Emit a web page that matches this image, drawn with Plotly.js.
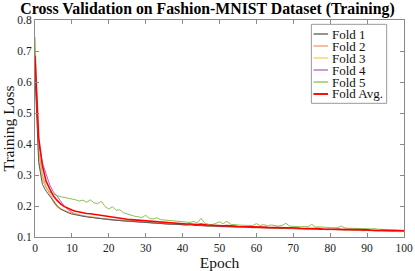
<!DOCTYPE html>
<html>
<head>
<meta charset="utf-8">
<script src="https://cdn.plot.ly/plotly-3.0.1.min.js"></script>
<style>html,body{margin:0;padding:0;background:#fff;}#chart{width:415px;height:271px;}</style>
</head>
<body>
<div id="chart"></div>
<script>
const epochs = Array.from({length: 101}, (_, i) => i);
const seriesNames = ["Fold 1", "Fold 2", "Fold 3", "Fold 4", "Fold 5", "Fold Avg."];
const xTicks = [0, 10, 20, 30, 40, 50, 60, 70, 80, 90, 100];
const yTicks = [0.1, 0.2, 0.3, 0.4, 0.5, 0.6, 0.7, 0.8];

const fold1 = [
0.620,0.340,0.270,0.248,0.232,0.215,0.200,0.190,0.183,0.178,
0.174,0.171,0.169,0.167,0.165,0.163,0.162,0.161,0.159,0.158,
0.156,0.156,0.154,0.153,0.152,0.151,0.151,0.149,0.148,0.148,
0.146,0.146,0.145,0.144,0.143,0.143,0.142,0.141,0.141,0.140,
0.139,0.139,0.142,0.138,0.137,0.137,0.136,0.136,0.135,0.135,
0.134,0.134,0.133,0.134,0.133,0.132,0.132,0.133,0.131,0.131,
0.131,0.130,0.132,0.130,0.129,0.130,0.129,0.128,0.129,0.128,
0.130,0.127,0.127,0.126,0.128,0.126,0.126,0.125,0.126,0.125,
0.125,0.124,0.126,0.124,0.123,0.124,0.123,0.123,0.125,0.122,
0.123,0.122,0.122,0.121,0.122,0.121,0.121,0.120,0.121,0.120,
0.120];
const fold2 = [
0.660,0.380,0.300,0.262,0.240,0.212,0.197,0.189,0.184,0.180,
0.177,0.173,0.170,0.168,0.166,0.164,0.163,0.161,0.160,0.158,
0.157,0.156,0.155,0.154,0.152,0.152,0.151,0.150,0.149,0.148,
0.147,0.146,0.146,0.144,0.144,0.143,0.142,0.142,0.141,0.140,
0.140,0.139,0.138,0.138,0.137,0.137,0.136,0.135,0.136,0.134,
0.134,0.133,0.133,0.132,0.133,0.131,0.131,0.132,0.130,0.130,
0.130,0.129,0.130,0.128,0.129,0.128,0.128,0.127,0.128,0.127,
0.127,0.126,0.127,0.125,0.126,0.125,0.125,0.124,0.125,0.123,
0.124,0.123,0.123,0.122,0.123,0.121,0.122,0.121,0.121,0.120,
0.121,0.120,0.120,0.119,0.120,0.119,0.118,0.119,0.118,0.117,
0.118];
const fold3 = [
0.640,0.370,0.290,0.258,0.238,0.218,0.202,0.192,0.186,0.181,
0.178,0.174,0.171,0.169,0.167,0.165,0.164,0.162,0.160,0.159,
0.158,0.157,0.155,0.155,0.153,0.152,0.151,0.151,0.149,0.149,
0.148,0.147,0.146,0.145,0.145,0.144,0.143,0.142,0.142,0.141,
0.140,0.140,0.139,0.139,0.138,0.138,0.137,0.137,0.136,0.136,
0.135,0.135,0.134,0.134,0.133,0.133,0.132,0.133,0.132,0.131,
0.131,0.131,0.130,0.130,0.129,0.130,0.129,0.128,0.128,0.128,
0.127,0.128,0.127,0.126,0.127,0.126,0.125,0.126,0.125,0.124,
0.125,0.124,0.124,0.123,0.124,0.123,0.122,0.123,0.122,0.122,
0.122,0.121,0.122,0.120,0.121,0.120,0.120,0.119,0.120,0.119,
0.119];
const fold4 = [
0.650,0.400,0.340,0.300,0.268,0.245,0.232,0.215,0.198,0.188,
0.180,0.175,0.171,0.168,0.166,0.164,0.162,0.161,0.159,0.158,
0.156,0.155,0.155,0.153,0.152,0.151,0.150,0.150,0.148,0.148,
0.147,0.146,0.145,0.145,0.144,0.143,0.142,0.142,0.141,0.140,
0.140,0.139,0.138,0.139,0.137,0.137,0.136,0.136,0.135,0.135,
0.134,0.134,0.133,0.133,0.132,0.133,0.132,0.131,0.131,0.130,
0.131,0.130,0.129,0.130,0.129,0.128,0.129,0.128,0.127,0.128,
0.127,0.127,0.126,0.126,0.125,0.126,0.125,0.125,0.124,0.124,
0.124,0.125,0.123,0.123,0.122,0.123,0.122,0.122,0.121,0.122,
0.121,0.121,0.120,0.121,0.120,0.119,0.120,0.119,0.119,0.119,
0.118];
const fold5 = [
0.745,0.350,0.285,0.258,0.245,0.238,0.233,0.230,0.228,0.226,
0.223,0.220,0.216,0.219,0.212,0.220,0.210,0.208,0.215,0.198,
0.190,0.198,0.186,0.188,0.178,0.174,0.170,0.167,0.165,0.163,
0.170,0.160,0.158,0.162,0.156,0.155,0.153,0.152,0.151,0.150,
0.149,0.148,0.147,0.150,0.146,0.160,0.145,0.141,0.140,0.144,
0.149,0.143,0.151,0.141,0.139,0.139,0.138,0.138,0.139,0.137,
0.143,0.137,0.140,0.136,0.139,0.136,0.135,0.138,0.144,0.135,
0.134,0.135,0.133,0.134,0.133,0.141,0.132,0.133,0.131,0.131,
0.130,0.131,0.130,0.135,0.129,0.128,0.129,0.128,0.127,0.128,
0.127,0.126,0.127,0.125,0.125,0.124,0.124,0.123,0.123,0.122,
0.122];
const foldAvg = [
0.685,0.420,0.330,0.280,0.255,0.232,0.218,0.206,0.198,0.192,
0.187,0.183,0.180,0.178,0.176,0.175,0.173,0.172,0.170,0.168,
0.165,0.165,0.162,0.161,0.159,0.157,0.156,0.155,0.153,0.153,
0.152,0.150,0.150,0.149,0.147,0.147,0.146,0.145,0.145,0.144,
0.143,0.142,0.142,0.141,0.140,0.142,0.139,0.138,0.138,0.137,
0.138,0.136,0.137,0.135,0.135,0.134,0.134,0.134,0.133,0.132,
0.134,0.132,0.132,0.131,0.131,0.131,0.130,0.130,0.131,0.129,
0.129,0.129,0.128,0.128,0.128,0.129,0.127,0.127,0.126,0.125,
0.126,0.125,0.125,0.125,0.124,0.124,0.124,0.123,0.123,0.123,
0.123,0.122,0.122,0.121,0.122,0.121,0.121,0.120,0.120,0.120,
0.120];

const seriesData = [fold1, fold2, fold3, fold4, fold5, foldAvg];
const colors = ["#5a5a5a", "#f39a6b", "#f5cf60", "#a766c8", "#8cc152", "#ff0000"];
const widths = [1, 1, 1, 1, 1, 1.6];

const serif = "Liberation Serif, Times New Roman, serif";

const traces = seriesData.map((ys, i) => ({
  x: epochs, y: ys, type: "scatter", mode: "lines", name: seriesNames[i],
  line: {color: colors[i], width: widths[i]}, showlegend: false, hoverinfo: "skip"
}));
// keep average on top
const order = [4, 3, 2, 1, 0, 5];
const data = order.map(i => traces[i]);

// custom compact legend (paper coordinates)
const lg = {x0: 0.749, x1: 0.953, y0: 0.616, y1: 0.980};
const shapes = [{
  type: "rect", xref: "paper", yref: "paper", x0: lg.x0, x1: lg.x1, y0: lg.y0, y1: lg.y1,
  line: {color: "#9a9a9a", width: 1}, fillcolor: "#ffffff", layer: "above"
}];
const annotations = [];
seriesNames.forEach((nm, i) => {
  const ypx = 34 + 12 * i;
  const yp = (237 - ypx) / 217;
  shapes.push({type: "line", xref: "paper", yref: "paper", x0: 0.7547, x1: 0.7940, y0: yp, y1: yp,
    line: {color: colors[i], width: widths[i] + 0.3}, layer: "above"});
  annotations.push({xref: "paper", yref: "paper", x: 0.7985, y: yp, xanchor: "left", yanchor: "middle",
    text: nm, showarrow: false, font: {family: serif, size: 13, color: "#111"}});
});

const layout = {
  width: 415, height: 271,
  margin: {l: 35, r: 11, t: 20, b: 34},
  paper_bgcolor: "#fff", plot_bgcolor: "#fff",
  title: {text: "<b>Cross Validation on Fashion-MNIST Dataset (Training)</b>",
    font: {family: serif, size: 15.8, color: "#000"}, x: 0.5, xanchor: "center", y: 0.99, yanchor: "top"},
  xaxis: {
    range: [0, 100], tickvals: xTicks, ticktext: xTicks.map(String),
    ticks: "inside", ticklen: 4, tickcolor: "#8a8a8a", mirror: "ticks",
    showline: true, linecolor: "#8a8a8a", linewidth: 1, showgrid: false, zeroline: false,
    tickfont: {family: serif, size: 11.5, color: "#222"},
    title: {text: "Epoch", font: {family: serif, size: 15.5, color: "#111"}, standoff: 2}
  },
  yaxis: {
    range: [0.1, 0.8], tickvals: yTicks, ticktext: yTicks.map(v => v.toFixed(1)),
    ticks: "inside", ticklen: 4, tickcolor: "#8a8a8a", mirror: "ticks",
    showline: true, linecolor: "#8a8a8a", linewidth: 1, showgrid: false, zeroline: false,
    tickfont: {family: serif, size: 11.5, color: "#222"},
    title: {text: "Training Loss", font: {family: serif, size: 15.5, color: "#111"}, standoff: 4}
  },
  shapes: shapes,
  annotations: annotations,
  showlegend: false
};

Plotly.newPlot("chart", data, layout, {displayModeBar: false, staticPlot: true});
</script>
</body>
</html>
